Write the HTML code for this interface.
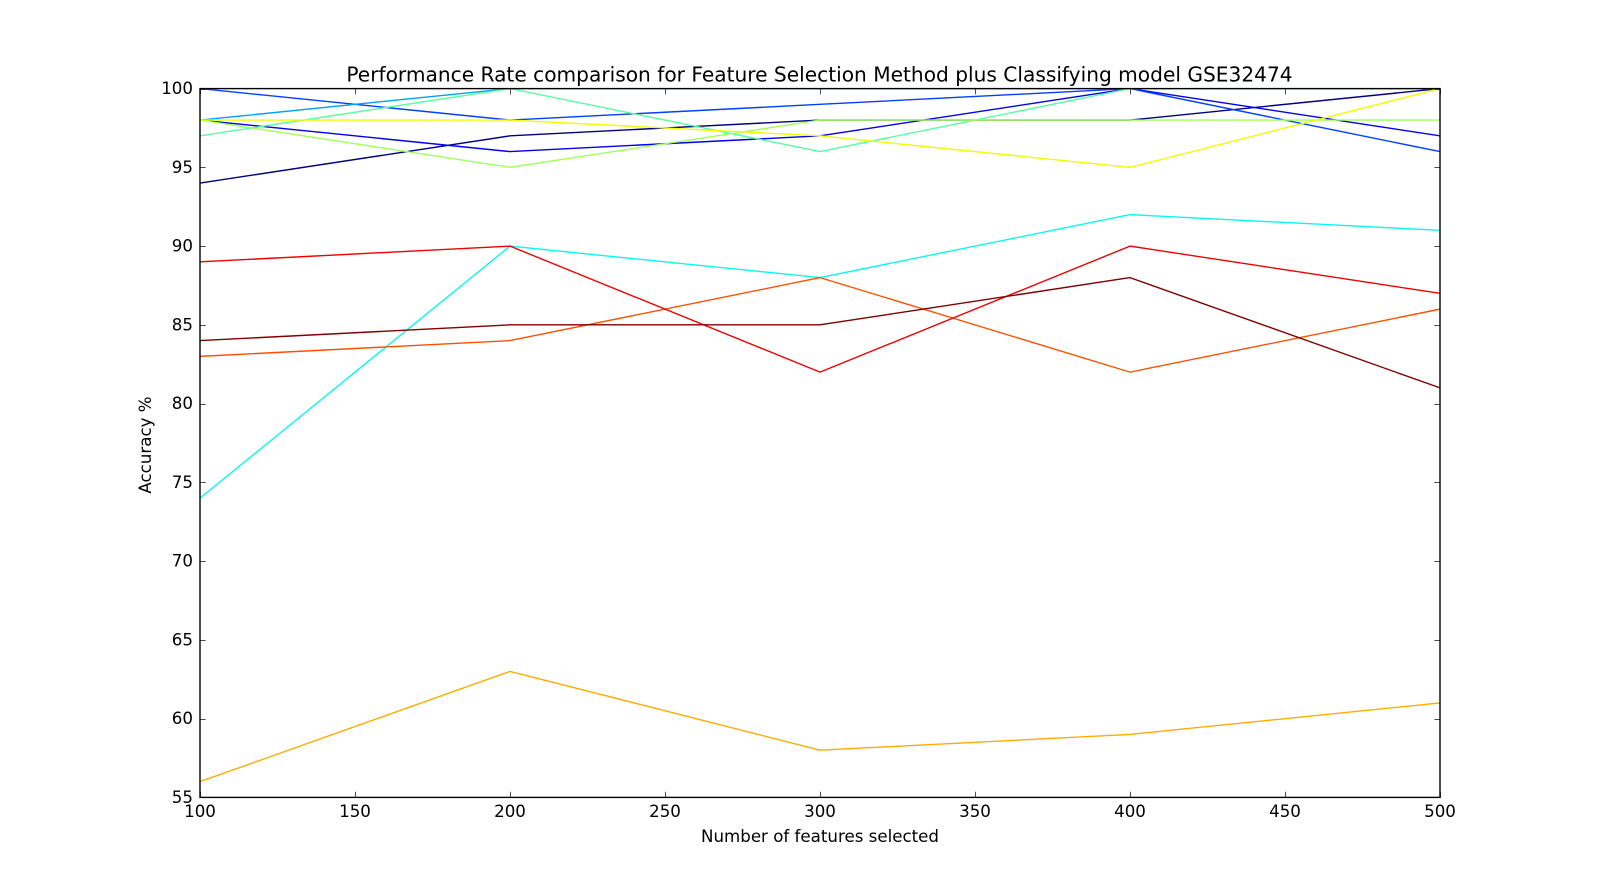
<!DOCTYPE html>
<html lang="en">
<head>
<meta charset="utf-8">
<title>Performance Rate comparison</title>
<style>
html,body{margin:0;padding:0;background:#fff;width:1600px;height:886px;overflow:hidden}
svg{display:block}
text{font-family:"DejaVu Sans","Liberation Sans",sans-serif;fill:#000}
</style>
</head>
<body>
<svg id="chart" xmlns="http://www.w3.org/2000/svg" width="1600" height="886" viewBox="0 0 1600 886">
<defs><clipPath id="plot-clip"><rect x="200" y="88.6" width="1240" height="708.8"/></clipPath></defs>
<rect x="0" y="0" width="1600" height="886" fill="#fff"/>
<g id="series-layer" clip-path="url(#plot-clip)"></g>
<g id="tick-layer"></g>
<rect x="200" y="88.6" width="1240" height="708.8" fill="none" stroke="#000" stroke-width="1.39"/>
<g id="label-layer"></g>
<text x="819.5" y="81.5" text-anchor="middle" font-size="20.16px">Performance Rate comparison for Feature Selection Method plus Classifying model GSE32474</text>
<text x="820" y="842" text-anchor="middle" font-size="16.67px">Number of features selected</text>
<text transform="translate(151,445) rotate(-90)" text-anchor="middle" font-size="16.67px">Accuracy %</text>
</svg>
<script>
const categories = [100, 200, 300, 400, 500];
const xTickLabels = [100, 150, 200, 250, 300, 350, 400, 450, 500];
const yTickLabels = [55, 60, 65, 70, 75, 80, 85, 90, 95, 100];
const series01 = [94, 97, 98, 98, 100];
const series02 = [98, 96, 97, 100, 97];
const series03 = [100, 98, 99, 100, 96];
const series04 = [98, 100, 100, 100, 100];
const series05 = [74, 90, 88, 92, 91];
const series06 = [97, 100, 96, 100, 100];
const series07 = [98, 95, 98, 98, 98];
const series08 = [98, 98, 97, 95, 100];
const series09 = [56, 63, 58, 59, 61];
const series10 = [83, 84, 88, 82, 86];
const series11 = [89, 90, 82, 90, 87];
const series12 = [84, 85, 85, 88, 81];
const allSeries = [series01, series02, series03, series04, series05, series06, series07, series08, series09, series10, series11, series12];
const seriesColors = ['#00007f', '#0000ee', '#0040ff', '#00a0ff', '#08f8ee', '#56ffa1', '#a1ff56', '#f0ff00', '#ffac00', '#ff5000', '#f00000', '#7f0000'];

const NS = 'http://www.w3.org/2000/svg';
const plotLeft = 200, plotRight = 1440, plotTop = 88.6, plotBottom = 797.4;
const xMin = 100, xMax = 500, yMin = 55, yMax = 100;
const tickLen = 5.6;
function xScale(v) { return plotLeft + (v - xMin) / (xMax - xMin) * (plotRight - plotLeft); }
function yScale(v) { return plotBottom - (v - yMin) / (yMax - yMin) * (plotBottom - plotTop); }

const seriesLayer = document.getElementById('series-layer');
const tickLayer = document.getElementById('tick-layer');
const labelLayer = document.getElementById('label-layer');

allSeries.forEach(function (values, i) {
  const line = document.createElementNS(NS, 'polyline');
  
  
  line.setAttribute('fill', 'none');
  line.setAttribute('stroke', seriesColors[i]);
  line.setAttribute('stroke-width', '1.39');
  line.setAttribute('stroke-linejoin', 'round');
  line.setAttribute('points', values.map(function (v, j) { return xScale(categories[j]) + ',' + yScale(v); }).join(' '));
  seriesLayer.appendChild(line);
});

function addTick(name, x1, y1, x2, y2) {
  const tick = document.createElementNS(NS, 'line');
  
  
  tick.setAttribute('x1', x1);
  tick.setAttribute('y1', y1);
  tick.setAttribute('x2', x2);
  tick.setAttribute('y2', y2);
  tick.setAttribute('stroke', '#000');
  tick.setAttribute('stroke-width', '0.7');
  tickLayer.appendChild(tick);
}

xTickLabels.forEach(function (v) {
  const x = Math.round(xScale(v)) + 0.5;
  addTick('x-tick-bottom-' + v, x, plotBottom, x, plotBottom - tickLen);
  addTick('x-tick-top-' + v, x, plotTop, x, plotTop + tickLen);
  const label = document.createElementNS(NS, 'text');
  
  
  label.setAttribute('x', xScale(v));
  label.setAttribute('y', 817);
  label.setAttribute('text-anchor', 'middle');
  label.setAttribute('font-size', '16.67px');
  label.textContent = v;
  labelLayer.appendChild(label);
});

yTickLabels.forEach(function (v) {
  const y = Math.round(yScale(v)) + 0.5;
  addTick('y-tick-left-' + v, plotLeft, y, plotLeft + tickLen, y);
  addTick('y-tick-right-' + v, plotRight, y, plotRight - tickLen, y);
  const label = document.createElementNS(NS, 'text');
  
  
  label.setAttribute('x', 193);
  label.setAttribute('y', yScale(v) + 5.5);
  label.setAttribute('text-anchor', 'end');
  label.setAttribute('font-size', '16.67px');
  label.textContent = v;
  labelLayer.appendChild(label);
});
</script>
</body>
</html>
